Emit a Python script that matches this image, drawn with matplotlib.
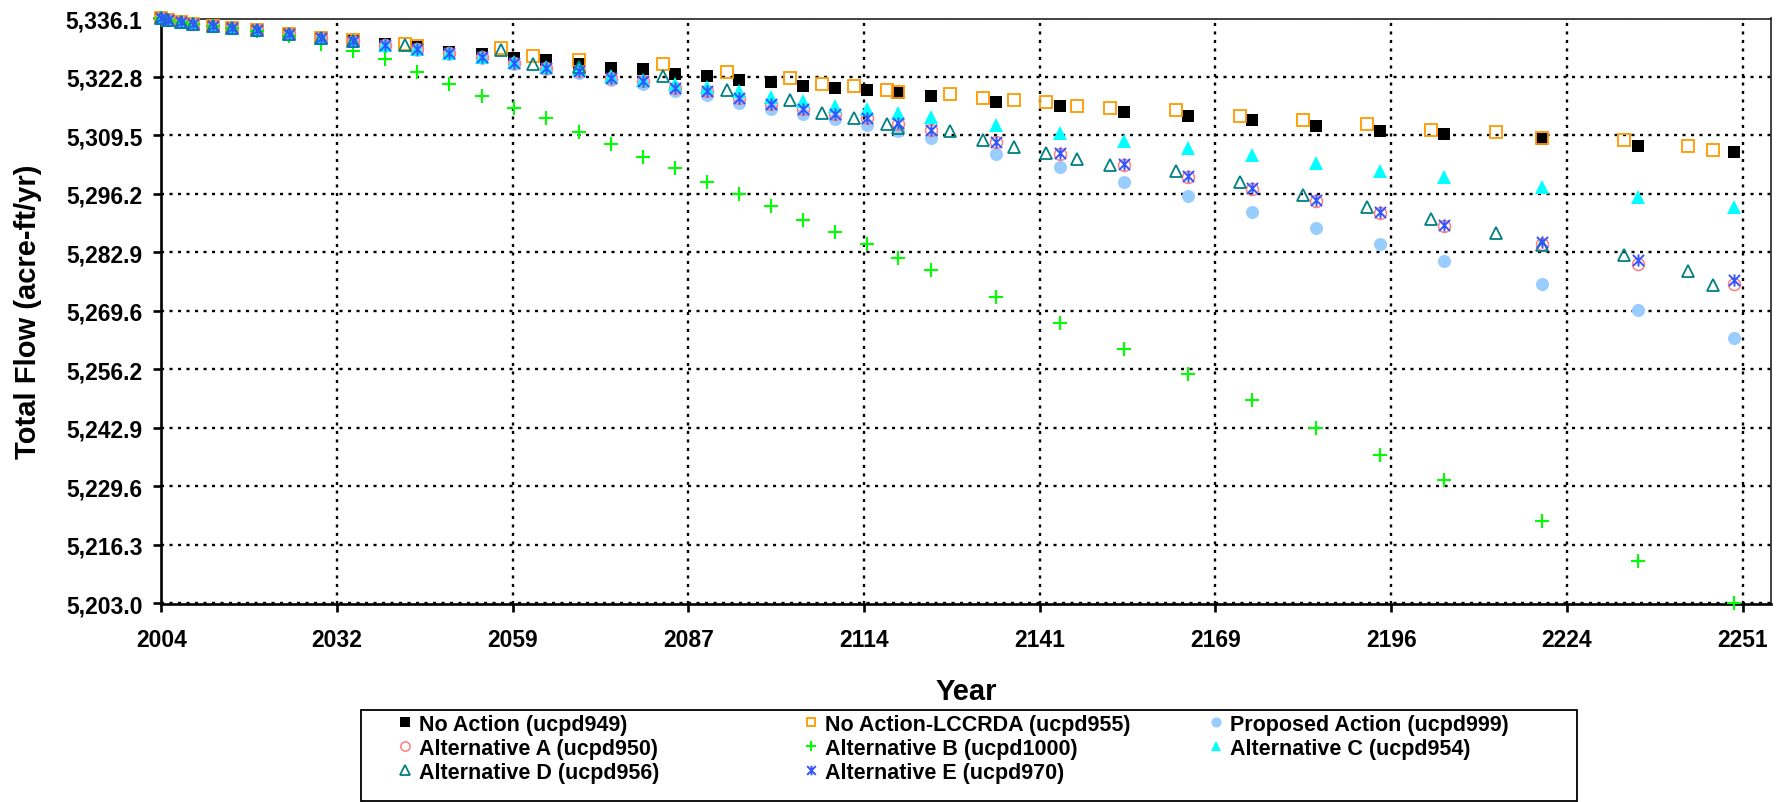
import matplotlib
matplotlib.use('Agg')
import matplotlib.pyplot as plt
from matplotlib.path import Path
from matplotlib.patches import Rectangle

plt.rcParams['font.family'] = ['Liberation Sans', 'DejaVu Sans']
plt.rcParams['font.weight'] = 'bold'

# ---------------- data ----------------
years_a = [2004, 2005, 2007, 2009, 2012, 2015, 2019, 2024, 2029, 2034,
           2039, 2044, 2049, 2054.1, 2059.1, 2064.1,
           2069.2, 2074.2, 2079.2, 2084.2, 2089.2, 2094.2, 2099.2, 2104.2,
           2109.2, 2114.2, 2119.1, 2124.2,
           2134.4, 2144.4, 2154.4, 2164.4, 2174.3, 2184.3, 2194.3, 2204.3,
           2219.6, 2234.6, 2249.6]

years_lccrda = [2004, 2005, 2007, 2009, 2012, 2015, 2019, 2024, 2029, 2034,
                2042.1, 2044, 2057.0, 2062.0,
                2069.2, 2082.3, 2092.3, 2102.2, 2107.2, 2112.2, 2117.3, 2119.1, 2127.2,
                2132.3, 2137.2, 2142.2, 2147.1, 2152.2, 2162.5, 2172.5, 2182.4, 2192.3,
                2202.3, 2212.4, 2219.6, 2232.4, 2242.4, 2246.4]

years_alt_d = [2004, 2005, 2007, 2009, 2012, 2015, 2019, 2024, 2029, 2034,
               2042.1, 2057.0, 2062.0,
               2069.2, 2082.3, 2092.3, 2102.2, 2107.2, 2112.2, 2117.3, 2119.1, 2127.2,
               2132.3, 2137.2, 2142.2, 2147.1, 2152.2, 2162.5, 2172.5, 2182.4, 2192.3,
               2202.3, 2212.4, 2219.6, 2232.4, 2242.4, 2246.4]

no_action = [5336.1, 5335.65, 5335.3, 5334.8, 5334.3, 5333.9, 5333.4, 5332.55, 5331.65, 5330.9,
             5330.3, 5329.6, 5328.5, 5328.0, 5327.1, 5326.7,
             5325.8, 5324.9, 5324.5, 5323.5, 5323.1, 5322.1, 5321.7, 5320.75, 5320.3, 5319.85,
             5319.2, 5318.4,
             5317.1, 5316.3, 5314.8, 5314.0, 5313.0, 5311.6, 5310.6, 5309.8,
             5308.75, 5307.0, 5305.7]

no_action_lccrda = [5336.1, 5335.65, 5335.3, 5334.8, 5334.3, 5333.9, 5333.4, 5332.6, 5331.7, 5331.3,
                    5330.2, 5329.8, 5329.3, 5327.5,
                    5326.7, 5325.8, 5324.0, 5322.6, 5321.3, 5320.8, 5319.9, 5319.4, 5319.0,
                    5318.0, 5317.6, 5317.2, 5316.2, 5315.7, 5315.3, 5313.9, 5313.0, 5312.1,
                    5310.7, 5310.3, 5308.8, 5308.4, 5307.1, 5306.2]

proposed = [5336.1, 5335.65, 5335.3, 5334.8, 5334.3, 5333.9, 5333.4, 5332.55, 5331.65, 5330.9,
            5329.9, 5329.0, 5328.0, 5327.0, 5325.7, 5324.5,
            5323.7, 5322.0, 5321.2, 5319.7, 5318.6, 5316.9, 5315.6, 5314.4, 5313.2, 5311.8,
            5310.6, 5308.9,
            5305.2, 5302.2, 5298.9, 5295.7, 5292.0, 5288.4, 5284.7, 5281.0,
            5275.6, 5269.7, 5263.3]

alt_a = [5336.1, 5335.65, 5335.3, 5334.8, 5334.3, 5333.9, 5333.4, 5332.55, 5331.65, 5330.9,
         5330.0, 5329.2, 5328.2, 5327.3, 5326.0, 5324.8,
         5324.1, 5322.6, 5321.8, 5320.3, 5319.5, 5318.0, 5316.65, 5315.6, 5314.4, 5313.4,
         5312.2, 5310.7,
         5308.0, 5305.3, 5302.8, 5300.1, 5297.3, 5294.6, 5291.8, 5288.8,
         5284.8, 5280.2, 5275.8]

alt_b = [5336.1, 5335.65, 5335.3, 5334.8, 5334.3, 5333.9, 5333.3, 5332.2, 5330.4, 5328.8,
         5326.9, 5323.9, 5321.1, 5318.5, 5315.7, 5313.4,
         5310.2, 5307.5, 5304.7, 5302.1, 5298.9, 5296.2, 5293.35, 5290.3, 5287.5, 5284.8,
         5281.6, 5278.9,
         5272.8, 5266.9, 5261.0, 5255.3, 5249.2, 5242.9, 5236.7, 5231.0,
         5221.7, 5212.6, 5203.0]

alt_c = [5336.1, 5335.65, 5335.3, 5334.8, 5334.3, 5333.9, 5333.4, 5332.55, 5331.65, 5330.9,
         5330.0, 5329.2, 5328.3, 5327.4, 5326.2, 5325.1,
         5324.5, 5323.0, 5322.2, 5321.1, 5320.45, 5319.5, 5318.2, 5317.4, 5316.1, 5315.6,
         5314.6, 5313.6,
         5311.9, 5310.0, 5308.3, 5306.6, 5305.1, 5303.2, 5301.4, 5300.1,
         5297.8, 5295.5, 5293.2]

alt_d = [5336.1, 5335.65, 5335.3, 5334.8, 5334.3, 5333.9, 5333.4, 5332.55, 5331.65, 5330.9,
         5330.0, 5329.0, 5325.75,
         5325.0, 5322.95, 5319.8, 5317.5, 5314.7, 5313.4, 5312.0, 5311.2, 5310.6,
         5308.4, 5306.8, 5305.6, 5304.2, 5302.8, 5301.4, 5298.8, 5296.0, 5293.2,
         5290.5, 5287.4, 5284.6, 5282.3, 5278.7, 5275.5]

alt_e = [5336.1, 5335.65, 5335.3, 5334.8, 5334.3, 5333.9, 5333.4, 5332.55, 5331.65, 5330.9,
         5330.0, 5329.2, 5328.2, 5327.3, 5326.0, 5324.8,
         5324.1, 5322.6, 5321.8, 5320.3, 5319.5, 5318.0, 5316.65, 5315.6, 5314.4, 5313.5,
         5312.3, 5310.8,
         5308.1, 5305.5, 5303.0, 5300.3, 5297.5, 5294.8, 5292.0, 5289.1,
         5285.2, 5281.2, 5276.6]

labels = ['No Action (ucpd949)', 'No Action-LCCRDA (ucpd955)', 'Proposed Action (ucpd999)',
          'Alternative A (ucpd950)', 'Alternative B (ucpd1000)', 'Alternative C (ucpd954)',
          'Alternative D (ucpd956)', 'Alternative E (ucpd970)']

x_tick_labels = ['2004', '2032', '2059', '2087', '2114', '2141', '2169', '2196', '2224', '2251']
y_tick_labels = ['5,203.0', '5,216.3', '5,229.6', '5,242.9', '5,256.2', '5,269.6',
                 '5,282.9', '5,296.2', '5,309.5', '5,322.8', '5,336.1']

# ---------------- figure ----------------
W, H = 1781, 803
fig = plt.figure(figsize=(W / 100, H / 100), dpi=100)
ax_l, ax_r, ax_t, ax_b = 161.3, 1771.0, 19.5, 604.5
ax = fig.add_axes([ax_l / W, 1 - ax_b / H, (ax_r - ax_l) / W, (ax_b - ax_t) / H])

star = Path([(-1, -1), (1, 1), (-1, 1), (1, -1), (0, -1.1), (0, 1.1)],
            [Path.MOVETO, Path.LINETO, Path.MOVETO, Path.LINETO, Path.MOVETO, Path.LINETO])

common = dict(linestyle='none', clip_on=False, zorder=3)
h_na, = ax.plot(years_a, no_action, marker='s', ms=9.3, mfc='black', mec='black', mew=0, **common)
h_nl, = ax.plot(years_lccrda, no_action_lccrda, marker='s', ms=8.2, mfc='none', mec='#FF9900', mew=1.3, **common)
h_pa, = ax.plot(years_a, proposed, marker='o', ms=9.4, mfc='#99CCFF', mec='#99CCFF', mew=0, **common)
h_aa, = ax.plot(years_a, alt_a, marker='o', ms=8.6, mfc='none', mec='#FF7F7F', mew=1.1, **common)
h_ab, = ax.plot(years_a, alt_b, marker='+', ms=9.4, mec='#00FF00', mew=1.5, **common)
h_ac, = ax.plot(years_a, alt_c, marker='^', ms=10.0, mfc='#00FFFF', mec='#00FFFF', mew=0, **common)
h_ad, = ax.plot(years_alt_d, alt_d, marker='^', ms=8.6, mfc='none', mec='#008080', mew=1.3, **common)
h_ae, = ax.plot(years_a, alt_e, marker=star, ms=8.8, mfc='none', mec='#3355FF', mew=1.4, **common)

handles = [h_na, h_nl, h_pa, h_aa, h_ab, h_ac, h_ad, h_ae]

# axes scales
x_step = 27.444
x_ticks = [2004 + x_step * k for k in range(len(x_tick_labels))]
ax.set_xlim(2004, 2004 + x_step * (ax_r - ax_l) / 175.7)
ax.set_xticks(x_ticks)
ax.set_xticklabels(x_tick_labels)
y_ticks = [5203.0 + (5336.1 - 5203.0) * k / 10 for k in range(11)]
ax.set_ylim(5203.0, 5336.1)
ax.set_yticks(y_ticks)
ax.set_yticklabels(y_tick_labels)

ax.set_axisbelow(True)
ax.grid(True, color='black', linestyle=(0, (1.3, 2.3)), linewidth=1.7)

for side in ['left', 'bottom']:
    ax.spines[side].set_linewidth(1.9)
for side in ['top', 'right']:
    ax.spines[side].set_linewidth(1.2)
    ax.spines[side].set_color('#222222')

ax.tick_params(axis='both', direction='out', length=5.5, width=1.9, labelsize=16.5, colors='black')
ax.tick_params(axis='y', pad=8)
ax.tick_params(axis='x', pad=12)

ax.set_xlabel('Year', fontsize=21, fontweight='bold', va='center')
ax.xaxis.set_label_coords(0.5, -(691.7 - ax_b) / (ax_b - ax_t))
ax.set_ylabel('Total Flow (acre-ft/yr)', fontsize=21, fontweight='bold', va='center', ha='center')
ax.yaxis.set_label_coords((28 - ax_l) / (ax_r - ax_l), 0.5)

# legend: three columns inside one frame
cols = [[0, 3, 6], [1, 4, 7], [2, 5]]
col_x = [394.0, 799.8, 1205.2]
leg_top = 715.0
for ci, idx in enumerate(cols):
    leg = fig.legend([handles[i] for i in idx], [labels[i] for i in idx],
                     loc='upper left', bbox_to_anchor=(col_x[ci] / W, 1 - leg_top / H),
                     bbox_transform=fig.transFigure, frameon=False, fontsize=15.5,
                     borderpad=0, borderaxespad=0, handlelength=1.0, handletextpad=0.15,
                     labelspacing=0.13, numpoints=1, markerscale=0.78)
    for t in leg.get_texts():
        t.set_fontweight('bold')

frame = Rectangle((361 / W, 1.5 / H), 1216 / W, 91 / H, transform=fig.transFigure,
                  fill=False, edgecolor='black', linewidth=1.3)
fig.add_artist(frame)

fig.savefig('out.png', dpi=100)
